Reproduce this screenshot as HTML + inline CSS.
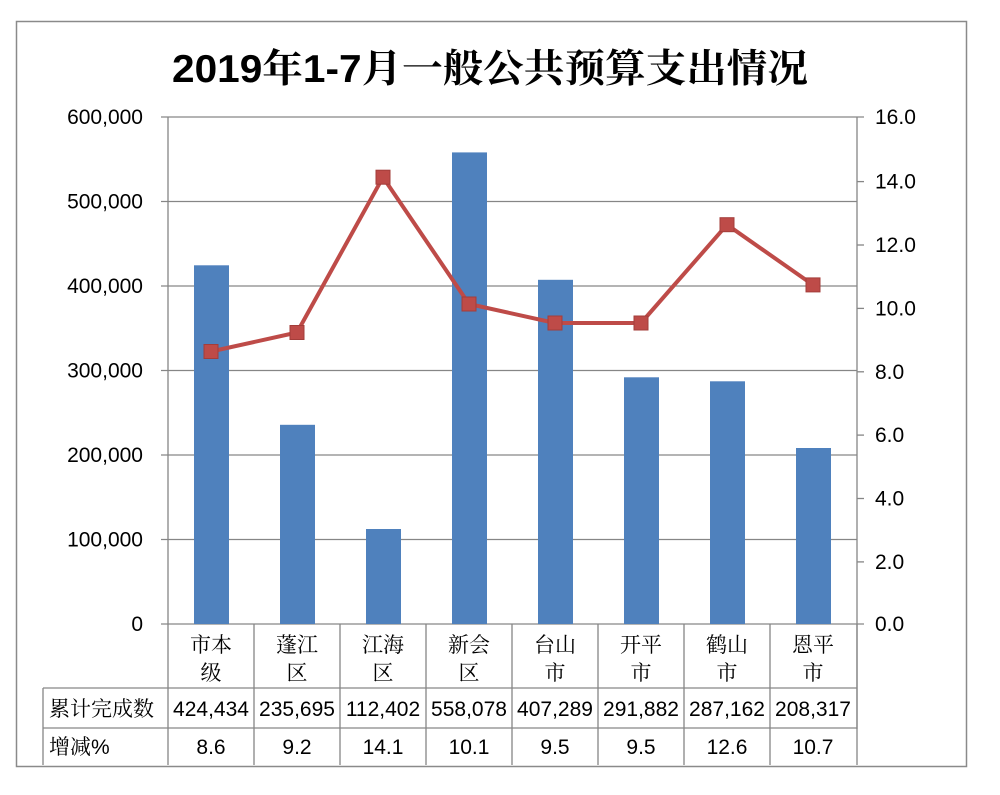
<!DOCTYPE html>
<html><head><meta charset="utf-8"><style>
body{margin:0;background:#fff;}
svg text{font-family:"Liberation Sans","Noto Sans CJK SC",sans-serif;}
.s{font-family:"Liberation Serif","Noto Serif CJK SC",serif !important;}
</style></head><body>
<svg width="1000" height="790" viewBox="0 0 1000 790" xmlns="http://www.w3.org/2000/svg">
<rect x="16.5" y="21.5" width="950" height="745" fill="#fff" stroke="#8a8a8a" stroke-width="1.5"/>
<text x="490" y="82" text-anchor="middle" font-size="39" font-weight="bold" fill="#000" textLength="636" lengthAdjust="spacingAndGlyphs"><tspan>2019</tspan><tspan class="s">年</tspan><tspan>1-7</tspan><tspan class="s">月一般公共预算支出情况</tspan></text>
<g stroke="#868686" stroke-width="1.3">
<line x1="161" y1="117" x2="864" y2="117"/>
<line x1="161" y1="201.5" x2="857" y2="201.5"/>
<line x1="161" y1="286" x2="857" y2="286"/>
<line x1="161" y1="370.5" x2="857" y2="370.5"/>
<line x1="161" y1="455" x2="857" y2="455"/>
<line x1="161" y1="539.5" x2="857" y2="539.5"/>
<line x1="161" y1="624" x2="864" y2="624"/>
<line x1="168" y1="117" x2="168" y2="765"/>
<line x1="857" y1="117" x2="857" y2="729"/>
<line x1="857" y1="181.6" x2="864" y2="181.6"/>
<line x1="857" y1="245" x2="864" y2="245"/>
<line x1="857" y1="308.4" x2="864" y2="308.4"/>
<line x1="857" y1="371.8" x2="864" y2="371.8"/>
<line x1="857" y1="435.1" x2="864" y2="435.1"/>
<line x1="857" y1="498.5" x2="864" y2="498.5"/>
<line x1="857" y1="561.9" x2="864" y2="561.9"/>
<line x1="254" y1="624" x2="254" y2="765"/>
<line x1="340" y1="624" x2="340" y2="765"/>
<line x1="426" y1="624" x2="426" y2="765"/>
<line x1="512" y1="624" x2="512" y2="765"/>
<line x1="598" y1="624" x2="598" y2="765"/>
<line x1="684" y1="624" x2="684" y2="765"/>
<line x1="770" y1="624" x2="770" y2="765"/>
<line x1="857" y1="624" x2="857" y2="765"/>
<line x1="43" y1="688" x2="857" y2="688"/>
<line x1="43" y1="728" x2="857" y2="728"/>
<line x1="43" y1="688" x2="43" y2="765"/>
</g>
<g fill="#4f81bd">
<rect x="194" y="265.3" width="35" height="358.7"/>
<rect x="280" y="424.8" width="35" height="199.2"/>
<rect x="366" y="529" width="35" height="95"/>
<rect x="452" y="152.4" width="35" height="471.6"/>
<rect x="538" y="279.8" width="35" height="344.2"/>
<rect x="624" y="377.3" width="35" height="246.7"/>
<rect x="710" y="381.3" width="35" height="242.7"/>
<rect x="796" y="448" width="35" height="176"/>
</g>
<polyline fill="none" stroke="#be4b48" stroke-width="4" stroke-linejoin="round" points="211,351.5 297,332.5 383,177.2 469,304 555,323 641,323 727,224.7 813,284.9"/>
<g fill="#be4b48" stroke="#a33d3a" stroke-width="1">
<rect x="204" y="344.5" width="14" height="14"/><rect x="290" y="325.5" width="14" height="14"/>
<rect x="376" y="170.2" width="14" height="14"/><rect x="462" y="297" width="14" height="14"/>
<rect x="548" y="316" width="14" height="14"/><rect x="634" y="316" width="14" height="14"/>
<rect x="720" y="217.7" width="14" height="14"/><rect x="806" y="277.9" width="14" height="14"/>
</g>
<g font-size="21" fill="#000" text-anchor="end">
<text x="143" y="124">600,000</text><text x="143" y="208.5">500,000</text>
<text x="143" y="293">400,000</text><text x="143" y="377.5">300,000</text>
<text x="143" y="462">200,000</text><text x="143" y="546.5">100,000</text>
<text x="143" y="631">0</text>
</g>
<g font-size="21" fill="#000">
<text x="875" y="124">16.0</text><text x="875" y="188.5">14.0</text>
<text x="875" y="252">12.0</text><text x="875" y="315.5">10.0</text>
<text x="875" y="379">8.0</text><text x="875" y="442">6.0</text>
<text x="875" y="505.5">4.0</text><text x="875" y="569">2.0</text>
<text x="875" y="631">0.0</text>
</g>
<g font-size="21" fill="#000" text-anchor="middle">
<text class="s" x="211" y="652">市本</text><text class="s" x="211" y="680">级</text>
<text class="s" x="297" y="652">蓬江</text><text class="s" x="297" y="680">区</text>
<text class="s" x="383" y="652">江海</text><text class="s" x="383" y="680">区</text>
<text class="s" x="469" y="652">新会</text><text class="s" x="469" y="680">区</text>
<text class="s" x="555" y="652">台山</text><text class="s" x="555" y="680">市</text>
<text class="s" x="641" y="652">开平</text><text class="s" x="641" y="680">市</text>
<text class="s" x="727" y="652">鹤山</text><text class="s" x="727" y="680">市</text>
<text class="s" x="813" y="652">恩平</text><text class="s" x="813" y="680">市</text>
</g>
<text class="s" x="49" y="716" font-size="21">累计完成数</text>
<text x="49" y="754" font-size="21"><tspan class="s">增减</tspan>%</text>
<g font-size="21" fill="#000" text-anchor="middle">
<text x="211" y="716">424,434</text><text x="297" y="716">235,695</text><text x="383" y="716">112,402</text><text x="469" y="716">558,078</text>
<text x="555" y="716">407,289</text><text x="641" y="716">291,882</text><text x="727" y="716">287,162</text><text x="813" y="716">208,317</text>
<text x="211" y="754">8.6</text><text x="297" y="754">9.2</text><text x="383" y="754">14.1</text><text x="469" y="754">10.1</text>
<text x="555" y="754">9.5</text><text x="641" y="754">9.5</text><text x="727" y="754">12.6</text><text x="813" y="754">10.7</text>
</g>
</svg>
</body></html>
